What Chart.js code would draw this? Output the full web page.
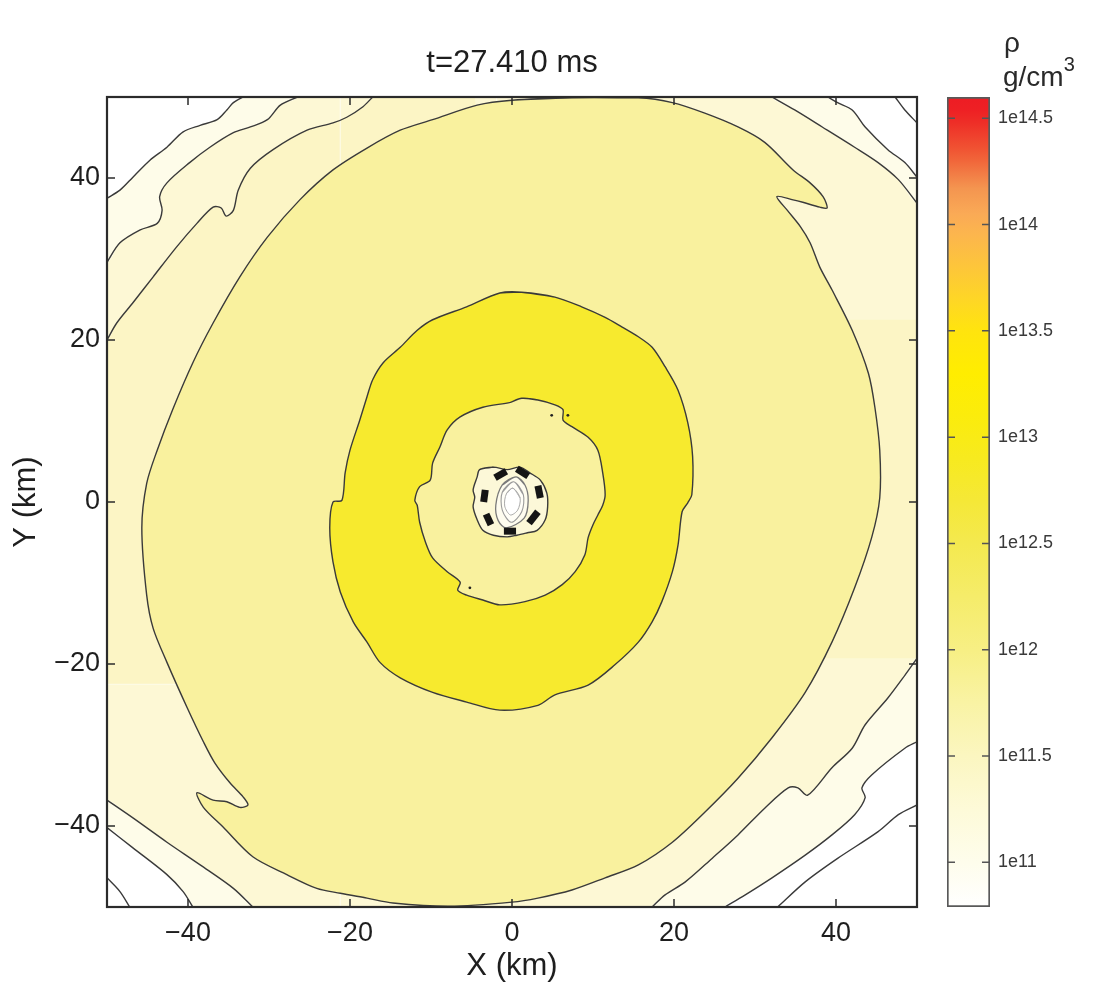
<!DOCTYPE html>
<html>
<head>
<meta charset="utf-8">
<script src="https://cdn.jsdelivr.net/npm/chart.js@4.4.1/dist/chart.umd.min.js"></script>
<style>
  html, body { margin: 0; padding: 0; background: #fff; }
  body { width: 1100px; height: 986px; position: relative; overflow: hidden; font-family: "Liberation Sans", Arial, sans-serif; }
  #mapBox { position: absolute; left: 0; top: 0; }
  #barBox { position: absolute; left: 940px; top: 0; }
  .unit { position: absolute; color: #2a2a2a; font-size: 28px; line-height: 28px; white-space: nowrap; }
  .unit span { position: relative; top: -15px; font-size: 20px; }
</style>
</head>
<body>
<canvas id="mapBox" width="1024" height="986"></canvas>
<canvas id="barBox" width="160" height="986"></canvas>
<div class="unit" style="left:1004px; top:29px;">ρ</div>
<div class="unit" style="left:1003px; top:63px;">g/cm<span>3</span></div>
<script>
// ticks
const xTicks = [-40, -20, 0, 20, 40];
const yTicks = [-40, -20, 0, 20, 40];
const cbTicks = [11, 11.5, 12, 12.5, 13, 13.5, 14, 14.5];

// colour bar (log10 rho -> colour)
const cbStops = [10.79, 11.0, 11.25, 11.5, 11.75, 12.0, 12.25, 12.5, 12.7, 12.9, 13.1, 13.3, 13.5, 13.65, 13.8, 13.95, 14.05, 14.17, 14.24, 14.3, 14.36, 14.42, 14.48, 14.54, 14.6];
const cbColors = ['#ffffff', '#fefdec', '#fdfad8', '#fbf6c0', '#f9f3a4', '#f7ef84', '#f5ec6a', '#f4e94f', '#f5e837', '#f7ea1f', '#fbec0c', '#ffed00', '#ffe40e', '#fed626', '#fdc63a', '#fcb64d', '#faaa56', '#f49550', '#f27c45', '#f1663a', '#f05232', '#ef402d', '#ee2e27', '#ee2024', '#ed1c24'];

// contour lines, [x km, y km]
const bigOval = [[7.4,49.9],[0,49.6],[-4.3,49.0],[-9.8,47.2],[-13.8,45.9],[-17.9,43.7],[-22.1,41.0],[-26.2,37.3],[-30.2,32.7],[-33.6,27.8],[-36.9,22.1],[-39.4,17.2],[-41.9,11.4],[-43.8,6.4],[-45.1,2.3],[-45.7,-3.2],[-45.1,-11.5],[-44.3,-15.6],[-42.6,-19.8],[-40.1,-25.4],[-38.1,-29.6],[-36.7,-32.2],[-34.8,-34.7],[-33.2,-36.4],[-32.6,-37.4],[-33.6,-37.7],[-35.2,-37.0],[-36.9,-36.8],[-38.9,-35.9],[-38.1,-37.7],[-35.7,-40.1],[-32.0,-43.8],[-27.8,-46.0],[-24.1,-47.7],[-21.2,-48.3],[-17.9,-48.9],[-14.7,-49.5],[-7.7,-49.9],[0,-49.4],[3.2,-48.9],[7.4,-47.9],[11.5,-46.4],[15.6,-44.8],[19.8,-42.0],[23.8,-38.3],[27.9,-34.1],[32.1,-29.1],[36.2,-23.5],[39.5,-17.3],[42.3,-10.6],[44.4,-4.4],[45.4,0.5],[45.4,6.4],[44.8,11.7],[44.0,15.9],[42.0,21.2],[39.5,26.2],[38.0,29.0],[36.8,32.0],[35.6,34.0],[34.0,36.0],[32.7,37.7],[34.7,37.3],[35.9,37.0],[38.0,36.4],[38.9,36.3],[38.4,37.7],[36.8,39.4],[34.7,41.0],[31.2,44.4],[27.9,46.3],[23.8,48.0],[19.8,49.3],[15.6,49.9]];
const ringOuter = [[1.2,25.9],[-1.5,25.8],[-5.6,24.1],[-9.8,22.5],[-11.7,21.2],[-13.8,19.1],[-15.9,17.2],[-17.2,15.1],[-17.9,13.0],[-18.8,10.1],[-20.0,6.4],[-20.6,3.6],[-21.0,0.2],[-22.1,0],[-22.5,-3.2],[-22.1,-7.4],[-21.2,-11.1],[-19.6,-14.8],[-17.9,-17.3],[-16.3,-19.8],[-13.8,-21.7],[-9.8,-23.5],[-5.6,-24.7],[-1.5,-25.7],[3.2,-25.1],[5.3,-23.8],[9.4,-22.6],[12.7,-20.1],[15.6,-17.3],[17.3,-14.8],[18.5,-12.3],[19.8,-8.6],[20.5,-5.3],[21.0,-1.2],[21.7,-0.1],[22.2,0.9],[22.3,5.6],[21.7,9.8],[20.5,13.8],[18.9,16.7],[17.3,19.1],[15.6,20.4],[13.6,21.6],[11.5,22.8],[8.6,24.1],[5.3,25.3]];
const ringInner = [[1.2,12.8],[-0.2,12.3],[-3.6,11.7],[-6.4,10.5],[-8.0,8.9],[-8.9,6.8],[-9.8,4.8],[-10.1,2.7],[-11.4,1.9],[-12.0,0.2],[-11.7,-0.4],[-11.4,-2.5],[-10.7,-4.9],[-9.8,-6.9],[-8.0,-8.6],[-6.4,-9.9],[-6.7,-10.9],[-5.6,-11.5],[-3.6,-12.1],[-1.5,-12.7],[1.6,-12.3],[4.1,-11.5],[6.2,-10.2],[7.8,-8.6],[9.0,-6.5],[9.4,-4.4],[10.0,-2.8],[10.6,-1.6],[11.2,-0.4],[11.5,0.9],[11.2,3.6],[10.6,6.4],[9.4,8.0],[7.4,9.3],[6.3,10.1],[6.3,11.4],[5.3,12.0],[3.2,12.6]];
const coreBlob = [[-4.0,4.0],[-2.3,4.3],[-0.6,4.0],[1.0,4.3],[2.2,3.6],[3.5,2.7],[4.3,1.1],[4.4,-0.6],[4.1,-2.2],[3.1,-3.5],[1.9,-3.8],[0.6,-4.1],[-0.6,-4.3],[-2.3,-4.1],[-3.6,-3.5],[-4.3,-2.2],[-4.8,-0.6],[-4.6,0.6],[-4.8,1.5],[-4.3,3.1]];
const coreRing1 = [[0.5,3.1],[1.6,2.1],[2.0,0.2],[1.5,-2.0],[-0.7,-3.2],[-1.7,-2.3],[-2.0,-0.4],[-1.2,2.1]];
const coreRing2 = [[0.2,2.5],[1.4,0.9],[1.2,-1.2],[-0.1,-2.5],[-1.2,-1.0],[-1.2,1.2]];
const coreRing3 = [[0.1,1.7],[1.0,0.5],[0.7,-1.0],[-0.2,-1.6],[-0.9,-0.5],[-0.7,1.0]];
const coreDashes = [[[-2.1,3.0],[-0.7,3.8]],[[0.6,4.1],[2.0,3.2]],[[3.2,2.0],[3.5,0.5]],[[3.2,-1.2],[2.1,-2.6]],[[-1.0,-3.6],[0.5,-3.6]],[[-3.2,-1.5],[-2.6,-2.8]],[[-3.3,1.5],[-3.5,0]]];
const coreCentre = [[-0.1,0.2]];
const specks = [[4.9,10.7],[6.9,10.7],[-5.2,-10.6]];

const tlA = [[-33.2,50.0],[-34.4,49.3],[-35.2,48.4],[-36.4,47.2],[-38.5,46.5],[-40.6,45.7],[-42.6,43.8],[-44.7,42.2],[-46.8,40.1],[-48.4,38.5],[-50.0,37.5]];
const tlB = [[-26.5,50.0],[-28.6,49.0],[-30.2,47.2],[-32.3,46.3],[-34.4,45.6],[-37.3,43.8],[-39.8,41.9],[-42.6,39.4],[-43.5,37.7],[-43.2,36.0],[-43.8,34.4],[-45.9,33.6],[-48.4,32.0],[-50.0,29.6]];
const tlC = [[-17.2,50.0],[-18.4,48.8],[-20.4,47.5],[-22.1,46.8],[-25.3,45.9],[-29.5,43.5],[-32.3,41.2],[-33.8,38.5],[-34.4,36.0],[-35.3,35.3],[-35.9,36.3],[-36.9,36.4],[-38.9,34.4],[-41.4,31.5],[-44.3,27.8],[-46.8,24.6],[-48.8,22.1],[-50.0,20.0]];
const trD = [[32.1,50.0],[34.9,48.4],[38.3,46.3],[42.3,43.8],[45.2,41.9],[47.7,39.8],[50.0,36.9]];
const trE = [[39.0,50.0],[40.2,49.3],[42.0,48.4],[43.6,46.3],[46.4,43.5],[48.5,41.9],[50.0,40.1]];
const trF = [[47.3,50.0],[48.5,48.4],[50.0,46.8]];
const brD = [[50.0,-19.3],[48.5,-21.4],[46.4,-24.2],[43.6,-27.5],[42.0,-30.4],[39.5,-32.8],[36.5,-36.2],[35.3,-35.3],[34.1,-35.3],[31.2,-37.8],[27.9,-41.1],[24.7,-44.0],[21.4,-46.9],[18.9,-48.5],[17.3,-50.0]];
const brE = [[50.0,-29.6],[48.5,-30.4],[44.4,-33.7],[43.2,-35.3],[43.6,-36.5],[42.3,-38.6],[39.5,-41.1],[36.2,-43.6],[32.1,-46.4],[28.8,-48.5],[26.3,-50.0]];
const brF = [[50.0,-37.4],[47.7,-38.6],[45.2,-40.7],[40.2,-44.0],[36.2,-46.9],[32.8,-50.0]];
const blOne = [[-50.0,-36.8],[-46.8,-39.0],[-42.6,-42.0],[-38.5,-44.8],[-34.4,-47.7],[-32.0,-50.0]];
const blTwo = [[-50.0,-40.2],[-46.8,-42.7],[-42.6,-46.0],[-40.6,-48.1],[-39.4,-50.0]];
const blThree = [[-50.0,-46.4],[-48.4,-48.1],[-47.2,-50.0]];

// faint tile seams visible in the rendered map
const seams = [[[-21.2,50],[-21.2,-50]],[[-34.5,26.4],[0,26.4]],[[-50,-22.5],[0,-22.5]],[[0,-2.2],[24.7,-2.2]],[[0,-26.0],[34.0,-26.0]],[[-1.9,50],[-1.9,2.3]]];

const family = "'Liberation Sans', Arial, Helvetica, sans-serif";
const lineColor = '#3a3a3a';

function xy(arr) { return arr.map(p => ({ x: p[0], y: p[1] })); }
function loop(arr) { return [arr[arr.length - 1]].concat(arr, [arr[0], arr[1]]); }
function rev(arr) { return arr.slice().reverse(); }

const layers = [];
function addFill(arr, color, edge, width, tension) {
  layers.push({
    data: xy(arr), backgroundColor: color, fill: 'shape',
    borderColor: edge || 'rgba(0,0,0,0)', borderWidth: width || 1,
    tension: tension === undefined ? 0.3 : tension, pointRadius: 0
  });
}
function addLine(arr, color, width, tension) {
  layers.push({
    data: xy(arr), borderColor: color, borderWidth: width, fill: false,
    tension: tension === undefined ? 0.3 : tension, pointRadius: 0
  });
}

// filled bands, bottom to top
addFill([[-33.2, 55]].concat(tlA, [[-55, 37.5], [-55, -40.2]], blTwo, [[-39.4, -55], [26.3, -55]], rev(brE), [[55, -29.6], [55, 40.1]], rev(trE), [[39.0, 55]]), '#fefce9');
addFill([[-26.5, 55]].concat(tlB, [[-55, 29.6], [-55, -36.8]], blOne, [[-32, -55], [17.3, -55]], rev(brD), [[55, -19.3], [55, 36.9]], rev(trD), [[32.1, 55]]), '#fdf8d5');
addFill([[-17.2, 55]].concat(tlC, [[-55, 20], [-55, 5], [-20, 5], [-20, 20], [-5, 45], [-5, 55]]), '#fcf5c5');
addFill([[-55, 12], [-55, -22.5], [-20, -22.5], [-20, 12]], '#fcf5c5', null, 1, 0);
addFill([[55, 22.5], [30, 22.5], [30, -19.3], [55, -19.3]], '#fcf5c5', null, 1, 0);

seams.forEach(s => addLine(s, 'rgba(255,255,255,0.55)', 1.2, 0));

[tlA, tlB, tlC, trD, trE, trF, brD, brE, brF, blOne, blTwo, blThree].forEach(c => addLine(c, lineColor, 1.4));

addFill(loop(bigOval), '#f9f19e', lineColor, 1.4);
addFill(loop(ringOuter), '#f7ea2e', lineColor, 1.4);
addFill(loop(ringInner), '#f9f19e', lineColor, 1.4);
addFill(loop(coreBlob), '#fcf8d8', lineColor, 1.4);
addFill(loop(coreRing1), '#fefcef', '#7a7a7a', 1.3);
addFill(loop(coreRing2), '#fffef7', '#9a9a9a', 1.1);
addFill(loop(coreRing3), '#ffffff', '#aaaaaa', 1);
coreDashes.forEach(d => addLine(d, '#151515', 7, 0));

layers.push({ data: xy(coreCentre), showLine: false, pointRadius: 4, pointBackgroundColor: '#ffffff', pointBorderWidth: 0 });
layers.push({ data: xy(specks), showLine: false, pointRadius: 1.4, pointBackgroundColor: '#222', pointBorderWidth: 0 });
layers.forEach((d, i) => { d.order = layers.length - i; });

function minus(v) { return v < 0 ? '\u2212' + Math.abs(v) : String(v); }

const frameTicks = {
  id: 'frameTicks',
  afterDraw(chart) {
    const { ctx, chartArea: a, scales } = chart;
    ctx.save();
    ctx.strokeStyle = '#2b2b2b';
    ctx.lineWidth = 2.2;
    ctx.strokeRect(a.left, a.top, a.right - a.left, a.bottom - a.top);
    ctx.lineWidth = 1.5;
    ctx.beginPath();
    xTicks.forEach(v => {
      const px = scales.x.getPixelForValue(v);
      ctx.moveTo(px, a.bottom); ctx.lineTo(px, a.bottom - 8);
      ctx.moveTo(px, a.top); ctx.lineTo(px, a.top + 8);
    });
    yTicks.forEach(v => {
      const py = scales.y.getPixelForValue(v);
      ctx.moveTo(a.left, py); ctx.lineTo(a.left + 8, py);
      ctx.moveTo(a.right, py); ctx.lineTo(a.right - 8, py);
    });
    ctx.stroke();
    ctx.restore();
  }
};

new Chart(document.getElementById('mapBox'), {
  type: 'line',
  data: { datasets: layers },
  options: {
    responsive: false,
    animation: false,
    events: [],
    elements: { line: { capBezierPoints: false } },
    layout: { padding: 0 },
    plugins: {
      legend: { display: false },
      tooltip: { enabled: false },
      title: {
        display: true, text: 't=27.410 ms', color: '#1e1e1e',
        font: { family: family, size: 31, weight: 'normal', lineHeight: 1 },
        padding: { top: 48, bottom: 18 }
      }
    },
    scales: {
      x: {
        type: 'linear', min: -50, max: 50, position: 'bottom',
        afterBuildTicks: s => { s.ticks = xTicks.map(v => ({ value: v })); },
        afterFit: s => { s.height = 79; },
        grid: { display: false, drawTicks: false },
        border: { display: false },
        ticks: { font: { family: family, size: 27 }, color: '#1e1e1e', padding: 10, maxRotation: 0, callback: minus },
        title: { display: true, text: 'X (km)', color: '#1e1e1e', font: { family: family, size: 31 }, padding: { top: 0, bottom: 1 } }
      },
      y: {
        type: 'linear', min: -50, max: 50, position: 'left',
        afterBuildTicks: s => { s.ticks = yTicks.map(v => ({ value: v })); },
        afterFit: s => { s.width = 107; },
        grid: { display: false, drawTicks: false },
        border: { display: false },
        ticks: { font: { family: family, size: 27 }, color: '#1e1e1e', padding: 7, callback: minus },
        title: { display: true, text: 'Y (km)', color: '#1e1e1e', font: { family: family, size: 31 }, padding: { top: 8, bottom: 0 } }
      },
      yRight: {
        type: 'linear', min: -50, max: 50, position: 'right',
        afterFit: s => { s.width = 107; },
        grid: { display: false, drawTicks: false },
        border: { display: false },
        ticks: { display: false }
      }
    }
  },
  plugins: [frameTicks]
});

const barTicks = {
  id: 'barTicks',
  afterDraw(chart) {
    const { ctx, chartArea: a, scales } = chart;
    ctx.save();
    ctx.strokeStyle = '#555';
    ctx.lineWidth = 1.5;
    ctx.beginPath();
    cbTicks.forEach(v => {
      const py = scales.y.getPixelForValue(v);
      ctx.moveTo(a.left, py); ctx.lineTo(a.left + 8, py);
      ctx.moveTo(a.right, py); ctx.lineTo(a.right - 8, py);
    });
    ctx.stroke();
    ctx.restore();
  }
};

function barFill(c) {
  const ch = c.chart;
  if (!ch.chartArea) return cbColors[0];
  const ys = ch.scales.y;
  const y0 = ys.getPixelForValue(cbStops[0]);
  const y1 = ys.getPixelForValue(cbStops[cbStops.length - 1]);
  const g = ch.ctx.createLinearGradient(0, y0, 0, y1);
  cbStops.forEach((v, i) => g.addColorStop((ys.getPixelForValue(v) - y0) / (y1 - y0), cbColors[i]));
  return g;
}

new Chart(document.getElementById('barBox'), {
  type: 'bar',
  data: {
    labels: [''],
    datasets: [{
      data: [[cbStops[0], cbStops[cbStops.length - 1]]],
      backgroundColor: barFill, borderColor: '#595959', borderWidth: 2, borderSkipped: false,
      barPercentage: 1, categoryPercentage: 1
    }]
  },
  options: {
    responsive: false,
    animation: false,
    events: [],
    layout: { padding: { left: 7, top: 97, bottom: 79, right: 0 } },
    plugins: { legend: { display: false }, tooltip: { enabled: false } },
    scales: {
      x: { display: false },
      y: {
        position: 'right', min: cbStops[0], max: cbStops[cbStops.length - 1],
        afterBuildTicks: s => { s.ticks = cbTicks.map(v => ({ value: v })); },
        afterFit: s => { s.width = 110; },
        grid: { display: false, drawTicks: false },
        border: { display: false },
        ticks: { padding: 8, color: '#3a3a3a', font: { family: family, size: 18 }, callback: v => '1e' + v }
      }
    }
  },
  plugins: [barTicks]
});
</script>
</body>
</html>
